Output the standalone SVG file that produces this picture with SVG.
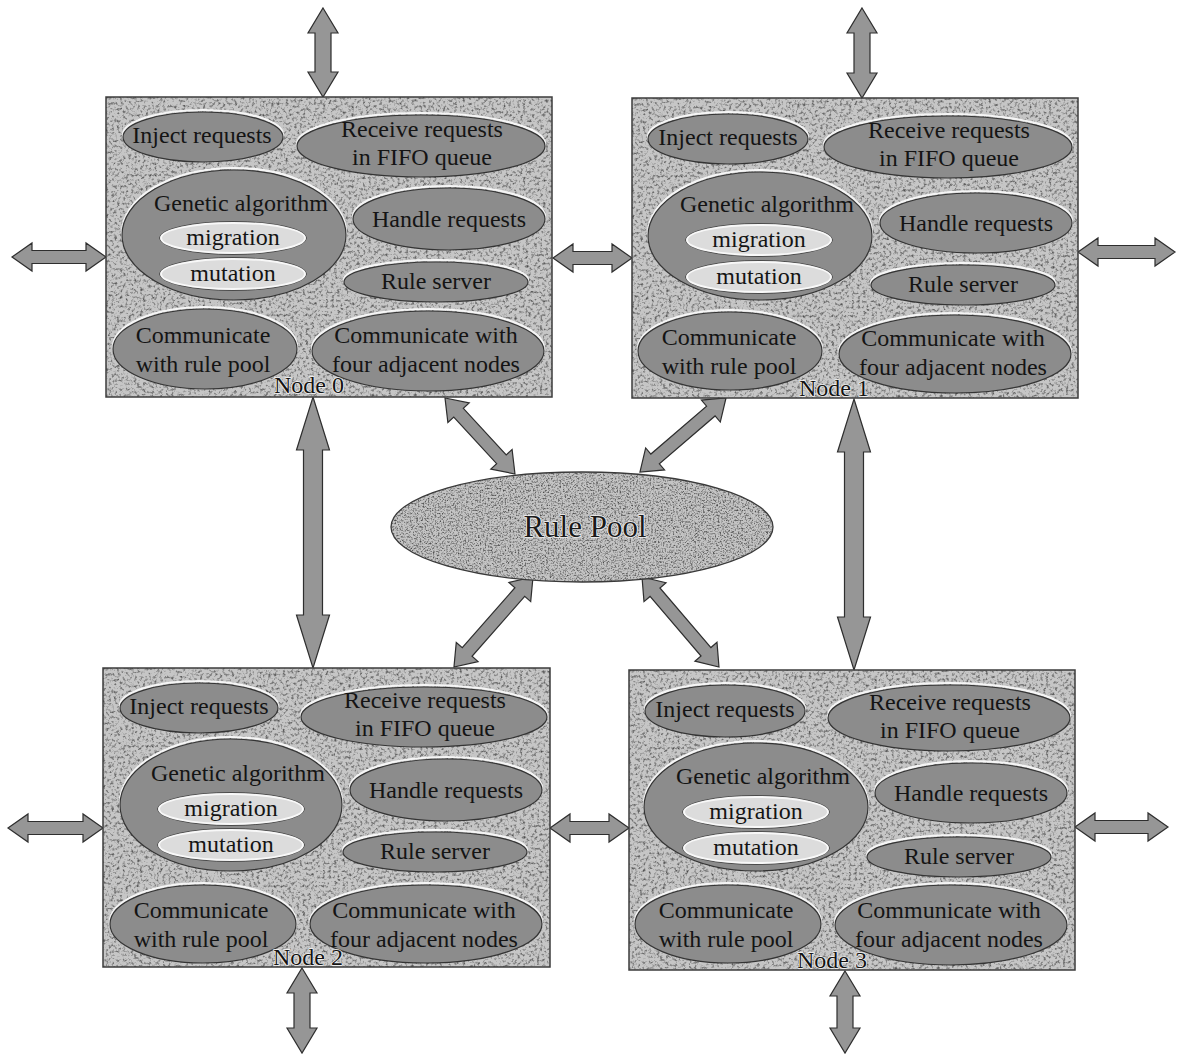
<svg xmlns="http://www.w3.org/2000/svg" width="1177" height="1055" viewBox="0 0 1177 1055">
<defs>
<style>
.box{fill:#c6c6c6}
.frame{fill:none;stroke:#3c3c3c;stroke-width:1.5}
.ov{fill:#8c8c8c;stroke:#343434;stroke-width:1.2}
.hl{fill:none;stroke:#f5f5f5;stroke-width:2.2}
.in{fill:#dcdcdc;stroke:#f8f8f8;stroke-width:2}
.ino{fill:none;stroke:#4a4a4a;stroke-width:1}
.t{font-family:"Liberation Serif","Times New Roman",serif;font-size:24px;fill:#141414;text-anchor:middle}
.lbl{stroke:#f6f6f6;stroke-width:1.4px;paint-order:stroke;stroke-linejoin:round}
.arr{fill:#969696;stroke:#2e2e2e;stroke-width:1.2;stroke-linejoin:miter}
.pool{fill:#c4c4c4}
.pt{font-family:"Liberation Serif","Times New Roman",serif;font-size:31px;fill:#1a1a1a;text-anchor:middle;stroke:#f2f2f2;stroke-width:1.6px;paint-order:stroke;stroke-linejoin:round}
</style>
<filter id="grain" x="0" y="0" width="100%" height="100%" color-interpolation-filters="sRGB">
<feTurbulence type="fractalNoise" baseFrequency="0.35" numOctaves="3" seed="5" result="n"/>
<feColorMatrix in="n" type="matrix" values="0 0 0 0 0.3  0 0 0 0 0.3  0 0 0 0 0.3  2.5 0 0 0 -1.22" result="dark"/>
<feComposite in="dark" in2="SourceGraphic" operator="in" result="d2"/>
<feMerge><feMergeNode in="SourceGraphic"/><feMergeNode in="d2"/></feMerge>
</filter>
<filter id="grain2" x="0" y="0" width="100%" height="100%" color-interpolation-filters="sRGB">
<feTurbulence type="fractalNoise" baseFrequency="0.6" numOctaves="3" seed="11" result="n"/>
<feColorMatrix in="n" type="matrix" values="0 0 0 0 0.3  0 0 0 0 0.3  0 0 0 0 0.3  2.6 0 0 0 -1.18" result="dark"/>
<feComposite in="dark" in2="SourceGraphic" operator="in" result="d2"/>
<feMerge><feMergeNode in="SourceGraphic"/><feMergeNode in="d2"/></feMerge>
</filter>
</defs>
<rect width="1177" height="1055" fill="#ffffff"/>

<g id="connectors">
<path class="arr" d="M323,8 L338,33 L331,33 L331,72 L338,72 L323,97 L308,72 L315,72 L315,33 L308,33 Z"/>
<path class="arr" d="M862,8 L877,33 L870,33 L870,73 L877,73 L862,98 L847,73 L854,73 L854,33 L847,33 Z"/>
<path class="arr" d="M12,257 L32,243 L32,250.5 L86,250.5 L86,243 L106,257 L86,271 L86,263.5 L32,263.5 L32,271 Z"/>
<path class="arr" d="M553,258 L573,244 L573,251.5 L612,251.5 L612,244 L632,258 L612,272 L612,264.5 L573,264.5 L573,272 Z"/>
<path class="arr" d="M1078,252 L1098,238 L1098,245.5 L1155,245.5 L1155,238 L1175,252 L1155,266 L1155,258.5 L1098,258.5 L1098,266 Z"/>
<path class="arr" d="M8,828 L28,814 L28,821.5 L83,821.5 L83,814 L103,828 L83,842 L83,834.5 L28,834.5 L28,842 Z"/>
<path class="arr" d="M550,828 L570,814 L570,821.5 L609,821.5 L609,814 L629,828 L609,842 L609,834.5 L570,834.5 L570,842 Z"/>
<path class="arr" d="M1075,827 L1095,813 L1095,820.5 L1148,820.5 L1148,813 L1168,827 L1148,841 L1148,833.5 L1095,833.5 L1095,841 Z"/>
<path class="arr" d="M313,397 L329.5,450 L322.5,450 L322.5,615 L329.5,615 L313,668 L296.5,615 L303.5,615 L303.5,450 L296.5,450 Z"/>
<path class="arr" d="M854,399 L870.5,452 L863.5,452 L863.5,617 L870.5,617 L854,670 L837.5,617 L844.5,617 L844.5,452 L837.5,452 Z"/>
<path class="arr" d="M302,968 L317,993 L310,993 L310,1028 L317,1028 L302,1053 L287,1028 L294,1028 L294,993 L287,993 Z"/>
<path class="arr" d="M845,971 L860,996 L853,996 L853,1028 L860,1028 L845,1053 L830,1028 L837,1028 L837,996 L830,996 Z"/>
<path class="arr" transform="translate(445,398) rotate(47.36)" d="M0,0 L20,-14.5 L20,-6.5 L83.3,-6.5 L83.3,-14.5 L103.3,0 L83.3,14.5 L83.3,6.5 L20,6.5 L20,14.5 Z"/>
<path class="arr" transform="translate(726,398) rotate(139.3)" d="M0,0 L20,-14.5 L20,-6.5 L93.5,-6.5 L93.5,-14.5 L113.5,0 L93.5,14.5 L93.5,6.5 L20,6.5 L20,14.5 Z"/>
<path class="arr" transform="translate(533,577) rotate(131.28)" d="M0,0 L20,-14.5 L20,-6.5 L99.8,-6.5 L99.8,-14.5 L119.8,0 L99.8,14.5 L99.8,6.5 L20,6.5 L20,14.5 Z"/>
<path class="arr" transform="translate(642,577) rotate(49.45)" d="M0,0 L20,-14.5 L20,-6.5 L98.4,-6.5 L98.4,-14.5 L118.4,0 L98.4,14.5 L98.4,6.5 L20,6.5 L20,14.5 Z"/>
</g>

<g id="rule-pool">
<ellipse class="pool" cx="582" cy="527" rx="191" ry="55" filter="url(#grain2)"/>
<ellipse fill="none" stroke="#3a3a3a" stroke-width="1.3" cx="582" cy="527" rx="191" ry="55"/>
<text class="pt" x="585" y="537">Rule Pool</text>
</g>

<g id="node0" transform="translate(106,97)">
<rect class="box" width="446" height="300" filter="url(#grain)"/>
<rect class="frame" width="446" height="300"/>
<ellipse class="hl" cx="97" cy="38" rx="80" ry="25"/><ellipse class="ov" cx="97" cy="40" rx="80" ry="25"/>
<text class="t" x="96" y="46">Inject requests</text>
<ellipse class="hl" cx="315" cy="47" rx="124" ry="31"/><ellipse class="ov" cx="315" cy="49" rx="124" ry="31"/>
<text class="t" x="316" y="40">Receive requests</text><text class="t" x="316" y="68">in FIFO queue</text>
<ellipse class="hl" cx="128" cy="136" rx="112" ry="65"/><ellipse class="ov" cx="128" cy="138" rx="112" ry="65"/>
<text class="t" x="135" y="114">Genetic algorithm</text>
<ellipse class="ino" cx="127" cy="141" rx="73.5" ry="16.5"/><ellipse class="in" cx="127" cy="141" rx="72" ry="15"/>
<text class="t" x="127" y="148">migration</text>
<ellipse class="ino" cx="127" cy="177" rx="73.5" ry="16.5"/><ellipse class="in" cx="127" cy="177" rx="72" ry="15"/>
<text class="t" x="127" y="184">mutation</text>
<ellipse class="hl" cx="343" cy="120" rx="96" ry="31"/><ellipse class="ov" cx="343" cy="122" rx="96" ry="31"/>
<text class="t" x="343" y="130">Handle requests</text>
<ellipse class="hl" cx="330" cy="183" rx="92" ry="20"/><ellipse class="ov" cx="330" cy="185" rx="92" ry="20"/>
<text class="t" x="330" y="192">Rule server</text>
<ellipse class="hl" cx="99" cy="250" rx="92" ry="40"/><ellipse class="ov" cx="99" cy="252" rx="92" ry="40"/>
<text class="t" x="97" y="246">Communicate</text><text class="t" x="97" y="275">with rule pool</text>
<ellipse class="hl" cx="322" cy="252" rx="116" ry="40"/><ellipse class="ov" cx="322" cy="254" rx="116" ry="40"/>
<text class="t" x="320" y="246">Communicate with</text><text class="t" x="320" y="275">four adjacent nodes</text>
<text class="t lbl" x="203" y="296">Node 0</text>
</g>

<g id="node1" transform="translate(632,98)">
<rect class="box" width="446" height="300" filter="url(#grain)"/>
<rect class="frame" width="446" height="300"/>
<ellipse class="hl" cx="96" cy="39" rx="80" ry="25"/><ellipse class="ov" cx="96" cy="41" rx="80" ry="25"/>
<text class="t" x="96" y="47">Inject requests</text>
<ellipse class="hl" cx="316" cy="47" rx="124" ry="31"/><ellipse class="ov" cx="316" cy="49" rx="124" ry="31"/>
<text class="t" x="317" y="40">Receive requests</text><text class="t" x="317" y="68">in FIFO queue</text>
<ellipse class="hl" cx="128" cy="136" rx="112" ry="64"/><ellipse class="ov" cx="128" cy="138" rx="112" ry="64"/>
<text class="t" x="135" y="114">Genetic algorithm</text>
<ellipse class="ino" cx="127" cy="142" rx="73.5" ry="16.5"/><ellipse class="in" cx="127" cy="142" rx="72" ry="15"/>
<text class="t" x="127" y="149">migration</text>
<ellipse class="ino" cx="127" cy="179" rx="73.5" ry="16.5"/><ellipse class="in" cx="127" cy="179" rx="72" ry="15"/>
<text class="t" x="127" y="186">mutation</text>
<ellipse class="hl" cx="344" cy="123" rx="96" ry="30"/><ellipse class="ov" cx="344" cy="125" rx="96" ry="30"/>
<text class="t" x="344" y="133">Handle requests</text>
<ellipse class="hl" cx="331" cy="185" rx="92" ry="20"/><ellipse class="ov" cx="331" cy="187" rx="92" ry="20"/>
<text class="t" x="331" y="194">Rule server</text>
<ellipse class="hl" cx="98" cy="251" rx="92" ry="39"/><ellipse class="ov" cx="98" cy="253" rx="92" ry="39"/>
<text class="t" x="97" y="247">Communicate</text><text class="t" x="97" y="276">with rule pool</text>
<ellipse class="hl" cx="323" cy="254" rx="116" ry="39"/><ellipse class="ov" cx="323" cy="256" rx="116" ry="39"/>
<text class="t" x="321" y="248">Communicate with</text><text class="t" x="321" y="277">four adjacent nodes</text>
<text class="t lbl" x="202" y="298">Node 1</text>
</g>

<g id="node2" transform="translate(103,668)">
<rect class="box" width="447" height="299" filter="url(#grain)"/>
<rect class="frame" width="447" height="299"/>
<ellipse class="hl" cx="96" cy="38" rx="79" ry="25"/><ellipse class="ov" cx="96" cy="40" rx="79" ry="25"/>
<text class="t" x="96" y="46">Inject requests</text>
<ellipse class="hl" cx="321" cy="47" rx="123" ry="30"/><ellipse class="ov" cx="321" cy="49" rx="123" ry="30"/>
<text class="t" x="322" y="40">Receive requests</text><text class="t" x="322" y="68">in FIFO queue</text>
<ellipse class="hl" cx="128" cy="135" rx="111" ry="66"/><ellipse class="ov" cx="128" cy="137" rx="111" ry="66"/>
<text class="t" x="135" y="113">Genetic algorithm</text>
<ellipse class="ino" cx="128" cy="141" rx="73.5" ry="16.5"/><ellipse class="in" cx="128" cy="141" rx="72" ry="15"/>
<text class="t" x="128" y="148">migration</text>
<ellipse class="ino" cx="128" cy="177" rx="73.5" ry="16.5"/><ellipse class="in" cx="128" cy="177" rx="72" ry="15"/>
<text class="t" x="128" y="184">mutation</text>
<ellipse class="hl" cx="343" cy="120" rx="96" ry="31"/><ellipse class="ov" cx="343" cy="122" rx="96" ry="31"/>
<text class="t" x="343" y="130">Handle requests</text>
<ellipse class="hl" cx="332" cy="182" rx="92" ry="20"/><ellipse class="ov" cx="332" cy="184" rx="92" ry="20"/>
<text class="t" x="332" y="191">Rule server</text>
<ellipse class="hl" cx="100" cy="254" rx="93" ry="39"/><ellipse class="ov" cx="100" cy="256" rx="93" ry="39"/>
<text class="t" x="98" y="250">Communicate</text><text class="t" x="98" y="279">with rule pool</text>
<ellipse class="hl" cx="323" cy="254" rx="116" ry="39"/><ellipse class="ov" cx="323" cy="256" rx="116" ry="39"/>
<text class="t" x="321" y="250">Communicate with</text><text class="t" x="321" y="279">four adjacent nodes</text>
<text class="t lbl" x="205" y="297">Node 2</text>
</g>

<g id="node3" transform="translate(629,670)">
<rect class="box" width="446" height="300" filter="url(#grain)"/>
<rect class="frame" width="446" height="300"/>
<ellipse class="hl" cx="96" cy="39" rx="80" ry="26"/><ellipse class="ov" cx="96" cy="41" rx="80" ry="26"/>
<text class="t" x="96" y="47">Inject requests</text>
<ellipse class="hl" cx="320" cy="46" rx="121" ry="33"/><ellipse class="ov" cx="320" cy="48" rx="121" ry="33"/>
<text class="t" x="321" y="40">Receive requests</text><text class="t" x="321" y="68">in FIFO queue</text>
<ellipse class="hl" cx="127" cy="135" rx="112" ry="64"/><ellipse class="ov" cx="127" cy="137" rx="112" ry="64"/>
<text class="t" x="134" y="114">Genetic algorithm</text>
<ellipse class="ino" cx="127" cy="142" rx="73.5" ry="16.5"/><ellipse class="in" cx="127" cy="142" rx="72" ry="15"/>
<text class="t" x="127" y="149">migration</text>
<ellipse class="ino" cx="127" cy="178" rx="73.5" ry="16.5"/><ellipse class="in" cx="127" cy="178" rx="72" ry="15"/>
<text class="t" x="127" y="185">mutation</text>
<ellipse class="hl" cx="342" cy="121" rx="96" ry="30"/><ellipse class="ov" cx="342" cy="123" rx="96" ry="30"/>
<text class="t" x="342" y="131">Handle requests</text>
<ellipse class="hl" cx="330" cy="185" rx="92" ry="20"/><ellipse class="ov" cx="330" cy="187" rx="92" ry="20"/>
<text class="t" x="330" y="194">Rule server</text>
<ellipse class="hl" cx="99" cy="252" rx="93" ry="39"/><ellipse class="ov" cx="99" cy="254" rx="93" ry="39"/>
<text class="t" x="97" y="248">Communicate</text><text class="t" x="97" y="277">with rule pool</text>
<ellipse class="hl" cx="322" cy="253" rx="116" ry="40"/><ellipse class="ov" cx="322" cy="255" rx="116" ry="40"/>
<text class="t" x="320" y="248">Communicate with</text><text class="t" x="320" y="277">four adjacent nodes</text>
<text class="t lbl" x="203" y="298">Node 3</text>
</g>
</svg>
